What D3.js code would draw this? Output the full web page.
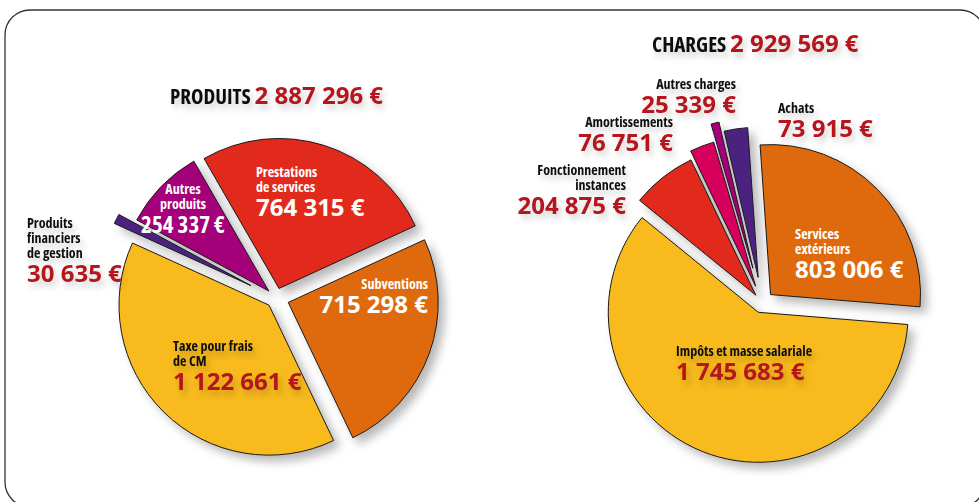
<!DOCTYPE html>
<html>
<head>
<meta charset="utf-8">
<script src="https://cdn.jsdelivr.net/npm/d3@7"></script>
<style>
  body { margin: 0; background: #fff; }
  svg { display: block; }
  text { font-family: "Open Sans", "Liberation Sans Narrow", sans-serif; font-weight: 700; }
  .lbl { font-stretch: 85%; }
  .ttl { font-stretch: 82%; }
</style>
</head>
<body>
<svg width="979" height="502"></svg>
<script>
// Produits (left pie), clockwise from the top
const produitsCats = ["Prestations de services", "Subventions", "Taxe pour frais de CM", "Produits financiers de gestion", "Autres produits"];
const produitsVals = [764315, 715298, 1122661, 30635, 254337];
const produitsTotal = "2 887 296 €";

// Charges (right pie), clockwise from the top
const chargesCats = ["Services extérieurs", "Impôts et masse salariale", "Fonctionnement instances", "Amortissements", "Autres charges", "Achats"];
const chargesVals = [803006, 1745683, 204875, 76751, 25339, 73915];
const chargesTotal = "2 929 569 €";

const svg = d3.select("svg");
const red = "#b5141e";
const fmt = v => d3.format(",")(v).replace(/,/g, " ") + " €";

// soft grey drop shadow
const defs = svg.append("defs");
const f = defs.append("filter").attr("id", "shadow")
  .attr("x", "-20%").attr("y", "-20%").attr("width", "150%").attr("height", "150%");
f.append("feDropShadow").attr("dx", 6).attr("dy", 6).attr("stdDeviation", 5)
  .attr("flood-color", "#000").attr("flood-opacity", 0.28);
const ft = defs.append("filter").attr("id", "tshadow")
  .attr("x", "-10%").attr("y", "-30%").attr("width", "130%").attr("height", "180%");
ft.append("feDropShadow").attr("dx", 3).attr("dy", 5).attr("stdDeviation", 3)
  .attr("flood-color", "#000").attr("flood-opacity", 0.18);

// frame
svg.append("rect")
  .attr("x", 5).attr("y", 10).attr("width", 980).attr("height", 497).attr("rx", 25)
  .attr("fill", "none").attr("stroke", "#333").attr("stroke-width", 1.3);

function drawPie(cfg) {
  const data = cfg.cats.map((c, i) => ({cat: c, value: cfg.vals[i]}));
  const pie = d3.pie().sort(null).value(d => d.value)
    .startAngle(cfg.start).endAngle(cfg.start + 2 * Math.PI);
  const arc = d3.arc().innerRadius(0).outerRadius(cfg.r);
  const color = d3.scaleOrdinal().domain(cfg.cats).range(cfg.colors);

  const g = svg.append("g").attr("transform", `translate(${cfg.cx},${cfg.cy})`)
    .attr("filter", "url(#shadow)");
  g.selectAll("path")
    .data(pie(data))
    .join("path")
      .attr("transform", (d, i) => {
        const a = (d.startAngle + d.endAngle) / 2, o = cfg.explode[i];
        return `translate(${Math.sin(a) * o},${-Math.cos(a) * o})`;
      })
      .attr("d", arc)
      .attr("fill", d => color(d.data.cat))
      .attr("stroke", "#1a1a1a")
      .attr("stroke-width", 1)
      .attr("stroke-linejoin", "round");

  // labels
  const lg = svg.append("g").attr("transform", `translate(${cfg.cx},${cfg.cy})`);
  cfg.labels.forEach(l => {
    const t = lg.append("g").attr("filter", l.white ? null : "url(#tshadow)");
    l.lines.forEach((s, k) => {
      t.append("text").attr("class", "lbl").attr("x", l.x).attr("y", l.y + k * 15)
        .attr("text-anchor", l.anchor || "start")
        .attr("font-size", 14).attr("fill", l.white ? "#fff" : "#111").text(s);
    });
    t.append("text").attr("x", l.x).attr("y", l.y + (l.lines.length - 1) * 15 + 24)
      .attr("text-anchor", l.anchor || "start")
      .attr("font-size", l.size || 24).attr("fill", l.white ? "#fff" : red)
      .style("font-stretch", l.stretch || null)
      .text(fmt(data[l.idx].value));
  });

  // title
  const tt = svg.append("text").attr("x", cfg.tx).attr("y", cfg.ty).attr("filter", "url(#tshadow)");
  tt.append("tspan").attr("class", "ttl").attr("font-size", 21).attr("fill", "#111").text(cfg.title + " ");
  tt.append("tspan").attr("font-size", 24).attr("fill", red).text(cfg.total);
}

const deg = Math.PI / 180;

drawPie({
  cats: produitsCats, vals: produitsVals, total: produitsTotal, title: "PRODUITS",
  cx: 276, cy: 298, r: 150, start: -30 * deg,
  explode: [10, 13, 10, 28, 10],
  colors: ["#e12a1b", "#de6b0a", "#f8ba1d", "#4b2480", "#a3007a"],
  tx: 170, ty: 104,
  labels: [
    {idx: 0, lines: ["Prestations", "de services"], x: -20, y: -121, white: true},
    {idx: 1, lines: ["Subventions"], x: 152, y: -9, white: true, anchor: "end"},
    {idx: 2, lines: ["Taxe pour frais", "de CM"], x: -103, y: 53},
    {idx: 3, lines: ["Produits", "financiers", "de gestion"], x: -249, y: -70},
    {idx: 4, lines: ["Autres", "produits"], x: -93, y: -104, white: true, anchor: "middle", size: 23, stretch: "86%"}
  ]
});

drawPie({
  cats: chargesCats, vals: chargesVals, total: chargesTotal, title: "CHARGES",
  cx: 762, cy: 303, r: 150, start: -4 * deg,
  explode: [12, 10, 10, 18, 36, 26],
  colors: ["#de6b0a", "#f8ba1d", "#e12a1b", "#d6005b", "#a3007a", "#4b2480"],
  tx: 652, ty: 52,
  labels: [
    {idx: 0, lines: ["Services", "extérieurs"], x: 33, y: -64, white: true},
    {idx: 1, lines: ["Impôts et masse salariale"], x: -86, y: 53},
    {idx: 2, lines: ["Fonctionnement", "instances"], x: -136, y: -128, anchor: "end"},
    {idx: 3, lines: ["Amortissements"], x: -89, y: -176, anchor: "end"},
    {idx: 4, lines: ["Autres charges"], x: -26, y: -214, anchor: "end"},
    {idx: 5, lines: ["Achats"], x: 16, y: -190}
  ]
});
</script>
</body>
</html>
